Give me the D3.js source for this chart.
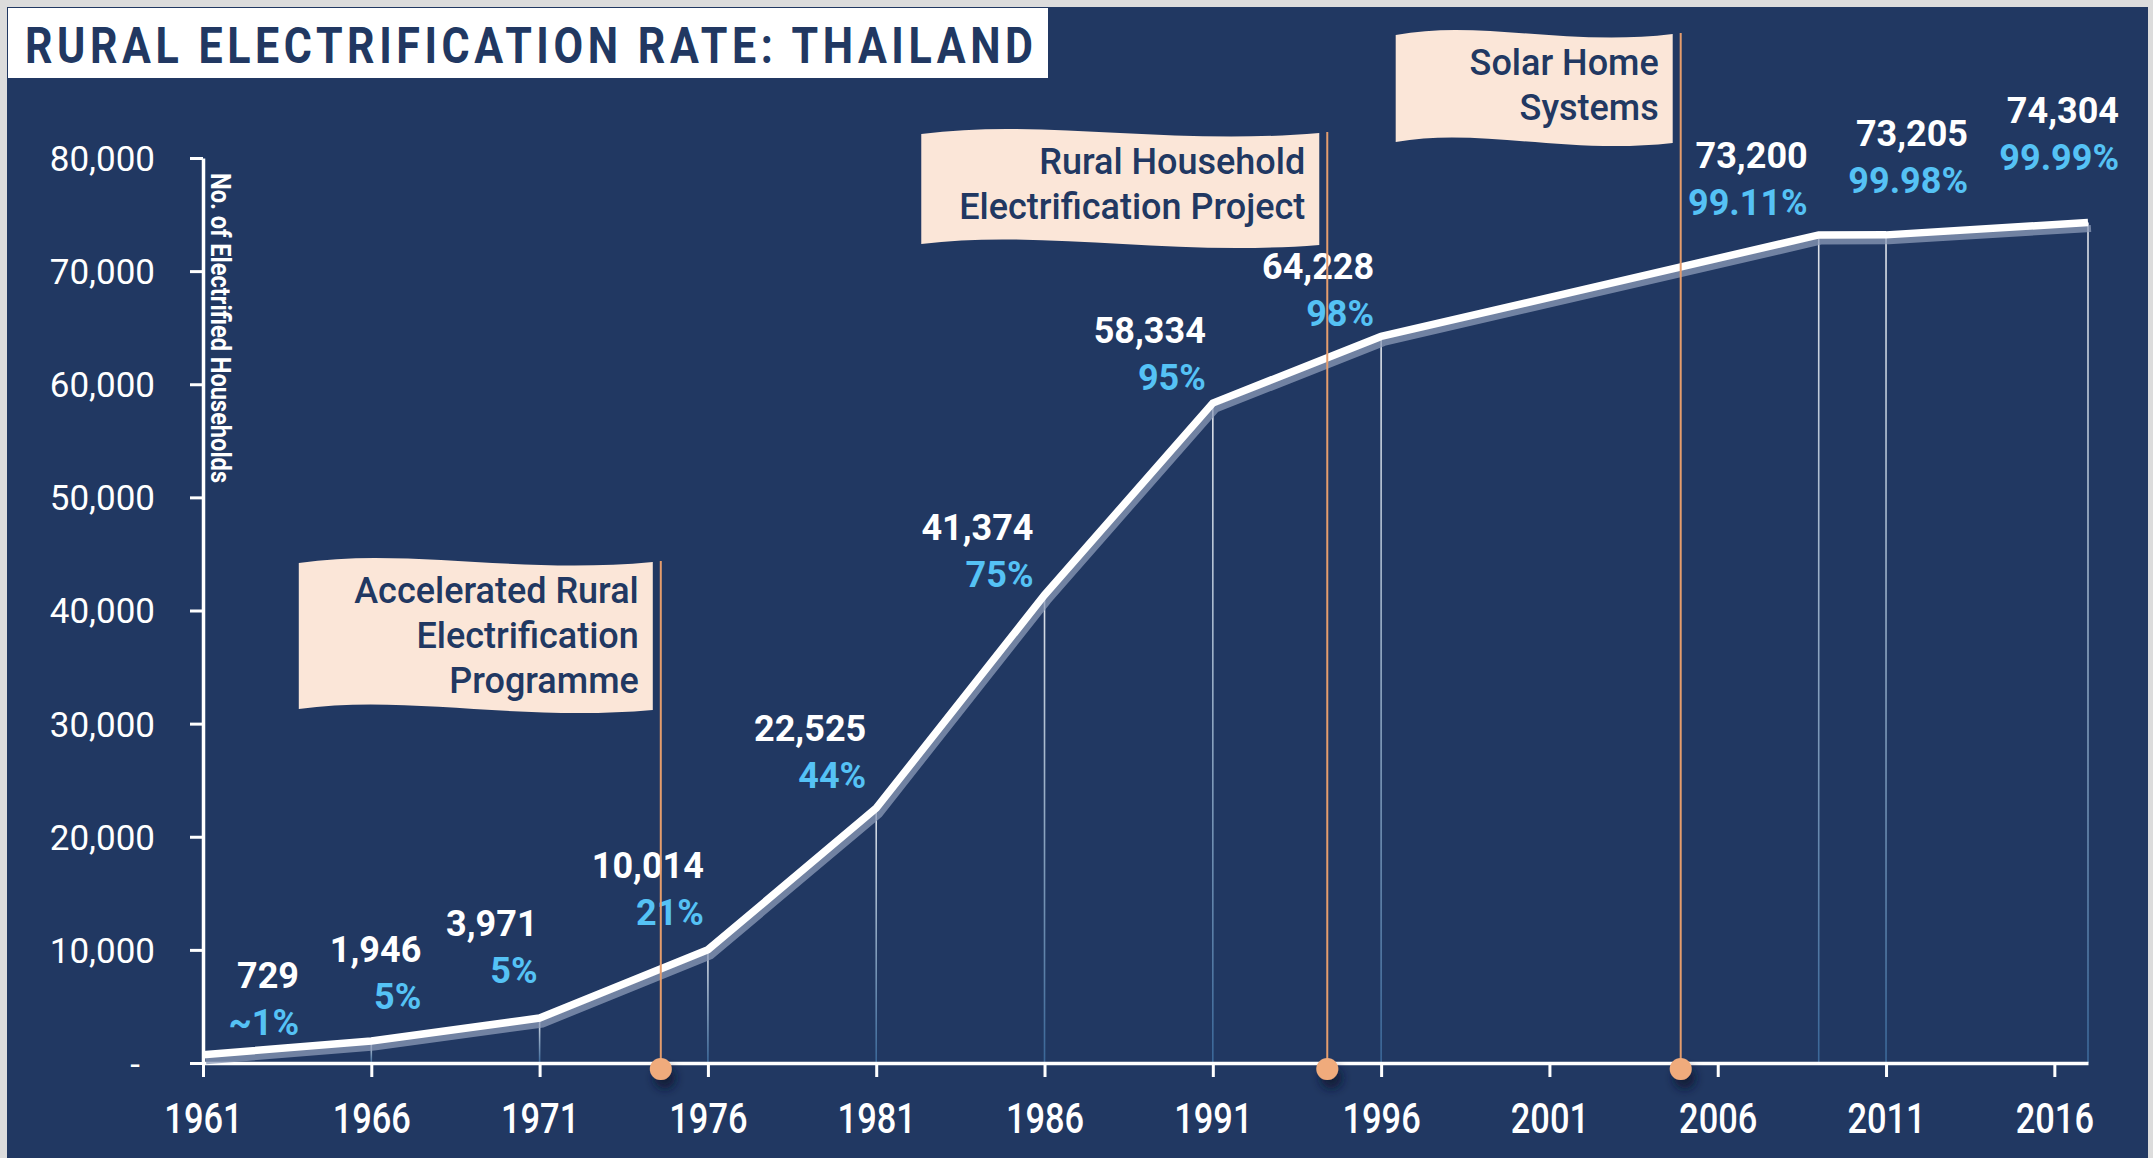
<!DOCTYPE html>
<html>
<head>
<meta charset="utf-8">
<script src="https://cdn.jsdelivr.net/npm/d3@7"></script>
<style>
  body { margin: 0; background: #dcdcdc; }
  svg { display: block; }
  text { font-family: Roboto, "Noto Sans", sans-serif; }
</style>
</head>
<body>
<svg id="chart" width="2153" height="1158"></svg>
<script>
const years = [1961, 1966, 1971, 1976, 1981, 1986, 1991, 1996, 2009, 2011, 2017];
const households = [729, 1946, 3971, 10014, 22525, 41374, 58334, 64228, 73200, 73205, 74304];
const rates = ["~1%", "5%", "5%", "21%", "44%", "75%", "95%", "98%", "99.11%", "99.98%", "99.99%"];

const yearTicks = [1961, 1966, 1971, 1976, 1981, 1986, 1991, 1996, 2001, 2006, 2011, 2016];
const valueTicks = [0, 10000, 20000, 30000, 40000, 50000, 60000, 70000, 80000];

const programmes = [
  ["Accelerated Rural", "Electrification", "Programme"],
  ["Rural Household", "Electrification Project"],
  ["Solar Home", "Systems"]
];
const programmeYears = [1974.6, 1994.4, 2004.9];

const navy = "#213862";
const peach = "#fbe6d8";
const orange = "#f0ab7c";
const sky = "#55c2f5";

const svg = d3.select("#chart");
const W = +svg.attr("width");
const H = +svg.attr("height");

// plot area
const plotLeft = 203, plotRight = 2088, plotTop = 158, plotBottom = 1063;

const x = d3.scaleLinear().domain([1961, 2017]).range([plotLeft, plotRight]);
const y = d3.scaleLinear().domain([0, 80000]).range([plotBottom, plotTop]);

const defs = svg.append("defs");
const shadow = defs.append("filter").attr("id", "dotShadow")
  .attr("x", "-100%").attr("y", "-100%").attr("width", "300%").attr("height", "300%");
shadow.append("feDropShadow")
  .attr("dx", 4).attr("dy", 9).attr("stdDeviation", 5)
  .attr("flood-color", "#0a1530").attr("flood-opacity", 0.85);

// frame + background
svg.append("rect").attr("x", 7).attr("y", 7).attr("width", W - 12).attr("height", H - 7).attr("fill", navy);

// title box (condensed, tracked-out lettering)
svg.append("rect").attr("x", 8).attr("y", 8).attr("width", 1040).attr("height", 70).attr("fill", "#fff");
svg.append("text")
  .attr("transform", "translate(25,63) scale(0.86,1)")
  .attr("textLength", 1008 / 0.86).attr("lengthAdjust", "spacing")
  .attr("font-size", 50).attr("font-weight", 700)
  .attr("fill", navy)
  .text("RURAL ELECTRIFICATION RATE: THAILAND");

const points = years.map((yr, i) => ({ year: yr, value: households[i], rate: rates[i] }));

// drop lines from each point to the axis
const drops = points.filter(d => d.year > 1961);
drops.forEach((d, i) => {
  const g = defs.append("linearGradient").attr("id", "drop" + i)
    .attr("gradientUnits", "userSpaceOnUse")
    .attr("x1", x(d.year)).attr("x2", x(d.year))
    .attr("y1", y(d.value)).attr("y2", plotBottom);
  g.append("stop").attr("offset", 0).attr("stop-color", "#dfe3ea");
  g.append("stop").attr("offset", 1).attr("stop-color", "#3a6798");
});
svg.append("g").selectAll("line")
  .data(drops)
  .enter()
  .append("line")
  .attr("x1", d => x(d.year)).attr("x2", d => x(d.year))
  .attr("y1", d => y(d.value)).attr("y2", plotBottom)
  .attr("stroke", (d, i) => `url(#drop${i})`)
  .attr("stroke-width", 1.6);

// axes
const xAxis = svg.append("g")
  .attr("transform", `translate(0,${plotBottom})`)
  .call(d3.axisBottom(x).tickValues(yearTicks).tickFormat(d3.format("d")).tickSize(14).tickSizeOuter(0));
xAxis.selectAll("text")
  .attr("y", 55).attr("dy", "0.355em")
  .attr("transform", "scale(0.82,1)")
  .attr("font-size", 42).attr("font-weight", 500).attr("fill", "#fff");

const yAxis = svg.append("g")
  .attr("transform", `translate(${plotLeft},0)`)
  .call(d3.axisLeft(y).tickValues(valueTicks)
    .tickFormat(d => d === 0 ? "-" : d3.format(",")(d))
    .tickSize(13).tickPadding(35).tickSizeOuter(0));
yAxis.selectAll("text")
  .attr("dy", "0.355em")
  .attr("font-size", 35).attr("fill", "#fff");
yAxis.selectAll(".tick").filter(d => d === 0).select("text").attr("dx", -15);

[xAxis, yAxis].forEach(a => {
  a.select(".domain").attr("stroke", "#fff").attr("stroke-width", 3.5);
  a.selectAll(".tick line").attr("stroke", "#fff").attr("stroke-width", 3);
});

svg.append("text")
  .attr("transform", "translate(211,173) rotate(90)")
  .attr("textLength", 310).attr("lengthAdjust", "spacingAndGlyphs")
  .attr("font-size", 28).attr("font-weight", 700)
  .attr("fill", "#fff")
  .text("No. of Electrified Households");

// the line with its soft shadow
const line = d3.line().x(d => x(d.year)).y(d => y(d.value));
svg.append("path")
  .datum(points)
  .attr("d", line)
  .attr("transform", "translate(3,6)")
  .attr("fill", "none")
  .attr("stroke", "#8c9bb8")
  .attr("stroke-opacity", 0.75)
  .attr("stroke-width", 7);
svg.append("path")
  .datum(points)
  .attr("d", line)
  .attr("fill", "none")
  .attr("stroke", "#fff")
  .attr("stroke-width", 7.5);

// value labels (right edge / vertical shift relative to each point)
const labelShift = [[96, -80], [50, -92], [-2, -95], [-4, -84], [-10, -80], [-11, -68],
  [-7, -73], [-7, -70], [-11, -80], [82, -102], [31, -112]];
const labels = svg.append("g").attr("text-anchor", "end").attr("font-weight", 700).attr("font-size", 36);
labels.selectAll(".num")
  .data(points)
  .enter()
  .append("text")
  .attr("x", (d, i) => x(d.year) + labelShift[i][0])
  .attr("y", (d, i) => y(d.value) + labelShift[i][1])
  .attr("dy", "0.355em")
  .attr("fill", "#fff")
  .text(d => d3.format(",")(d.value));
labels.selectAll(".pct")
  .data(points)
  .enter()
  .append("text")
  .attr("x", (d, i) => x(d.year) + labelShift[i][0])
  .attr("y", (d, i) => y(d.value) + labelShift[i][1] + 47)
  .attr("dy", "0.355em")
  .attr("fill", sky)
  .text(d => d.rate);

// programme flags
const flagBox = [
  { width: 354, top: 561, height: 147 },
  { width: 398, top: 132, height: 111 },
  { width: 277, top: 33, height: 108 }
];
function flagPath(x0, x1, t, h) {
  const w = x1 - x0, a = 14;
  return `M${x0},${t + 2} C${x0 + w * 0.3},${t - a} ${x0 + w * 0.62},${t + a} ${x1},${t + 1}` +
    ` L${x1},${t + h + 2} C${x0 + w * 0.62},${t + h + a} ${x0 + w * 0.3},${t + h - a} ${x0},${t + h + 1} Z`;
}
programmeYears.forEach((yr, i) => {
  const px = x(yr);
  const b = flagBox[i];
  const x1 = px - 8, x0 = x1 - b.width;
  const g = svg.append("g");
  g.append("path")
    .attr("d", flagPath(x0, x1, b.top, b.height))
    .attr("fill", peach);
  g.selectAll("text")
    .data(programmes[i])
    .enter()
    .append("text")
    .attr("x", x1 - 14)
    .attr("y", (d, j) => b.top + 42 + j * 45)
    .attr("text-anchor", "end")
    .attr("font-size", 36).attr("font-weight", 500)
    .attr("fill", navy)
    .text(d => d);
  svg.append("line")
    .attr("x1", px).attr("x2", px)
    .attr("y1", b.top).attr("y2", plotBottom)
    .attr("stroke", "#e59d6d").attr("stroke-width", 2);
  svg.append("circle")
    .attr("cx", px).attr("cy", plotBottom + 6)
    .attr("r", 11)
    .attr("fill", orange)
    .attr("filter", "url(#dotShadow)");
});
</script>
</body>
</html>
